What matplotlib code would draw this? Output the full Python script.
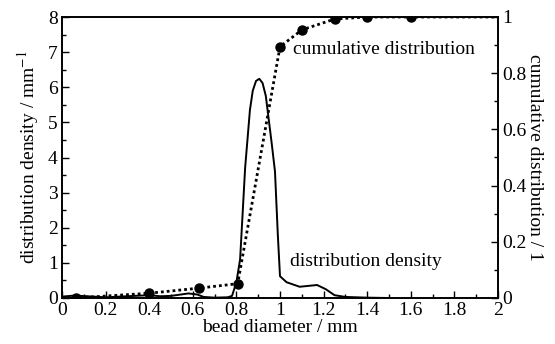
import numpy as np
import matplotlib
matplotlib.use("Agg")
import matplotlib.pyplot as plt
from matplotlib.ticker import MultipleLocator, FormatStrFormatter

plt.rcParams['font.family'] = ['Liberation Serif', 'DejaVu Serif']
plt.rcParams['mathtext.fontset'] = 'stix'

# distribution density (solid line), mm^-1
dens_x = [0.0, 0.06, 0.2, 0.3, 0.4, 0.45, 0.5, 0.58, 0.62, 0.65, 0.7, 0.76, 0.78, 0.8,
          0.817, 0.84, 0.862, 0.875, 0.89, 0.905, 0.92, 0.935, 0.948, 0.962, 0.977,
          0.99, 1.0, 1.03, 1.09, 1.17, 1.21, 1.25, 1.3, 1.4, 1.5]
dens_y = [0.04, 0.07, 0.02, 0.05, 0.08, 0.05, 0.06, 0.13, 0.1, 0.03, 0.01, 0.02, 0.06, 0.45,
          1.1, 3.7, 5.35, 5.9, 6.18, 6.24, 6.12, 5.75, 5.1, 4.4, 3.6,
          1.8, 0.62, 0.45, 0.32, 0.37, 0.25, 0.08, 0.03, 0.01, 0.0]

# cumulative distribution (dotted line with markers)
cum_x = [0.0, 0.064, 0.4, 0.627, 0.806, 1.0, 1.1, 1.252, 1.4, 1.6, 2.0]
cum_y = [0.0, 0.0, 0.017, 0.035, 0.051, 0.894, 0.954, 0.993, 1.0, 1.0, 1.0]
marked = [1, 2, 3, 4, 5, 6, 7, 8, 9]

fig = plt.figure(figsize=(5.55, 3.44), dpi=100)
ax = fig.add_axes([62/555, 1 - 298/344, 436/555, 281/344])
ax2 = ax.twinx()

ax.plot(dens_x, dens_y, color='black', lw=1.4)
ax2.plot(cum_x, cum_y, color='black', lw=2.0, linestyle=(0, (1, 1.1)),
         marker='o', markersize=6.5, markevery=marked)

ax.set_xlim(0, 2)
ax.set_ylim(0, 8)
ax2.set_ylim(0, 1)

ax.xaxis.set_major_locator(MultipleLocator(0.2))
ax.xaxis.set_minor_locator(MultipleLocator(0.1))
ax.yaxis.set_major_locator(MultipleLocator(1))
ax.yaxis.set_minor_locator(MultipleLocator(0.5))
ax2.yaxis.set_major_locator(MultipleLocator(0.2))
ax2.yaxis.set_minor_locator(MultipleLocator(0.1))
ax.xaxis.set_major_formatter(FormatStrFormatter('%g'))
ax.yaxis.set_major_formatter(FormatStrFormatter('%g'))
ax2.yaxis.set_major_formatter(FormatStrFormatter('%g'))

for a in (ax, ax2):
    a.tick_params(which='major', direction='in', length=5, width=1, labelsize=14, pad=3)
    a.tick_params(which='minor', direction='in', length=3, width=1)
    for s in a.spines.values():
        s.set_linewidth(1.2)
ax.tick_params(which='both', top=False, right=False)

ax.set_xlabel('bead diameter / mm', fontsize=14, labelpad=0)
ax.set_ylabel('distribution density / mm$^{-1}$', fontsize=14, labelpad=5)
ax2.set_ylabel('cumulative distribution / 1', fontsize=14, rotation=270, labelpad=12)

ax2.text(1.06, 0.885, 'cumulative distribution', fontsize=14, va='center', ha='left')
ax.text(1.045, 1.03, 'distribution density', fontsize=14, va='center', ha='left')

fig.savefig('out.png', dpi=100)
